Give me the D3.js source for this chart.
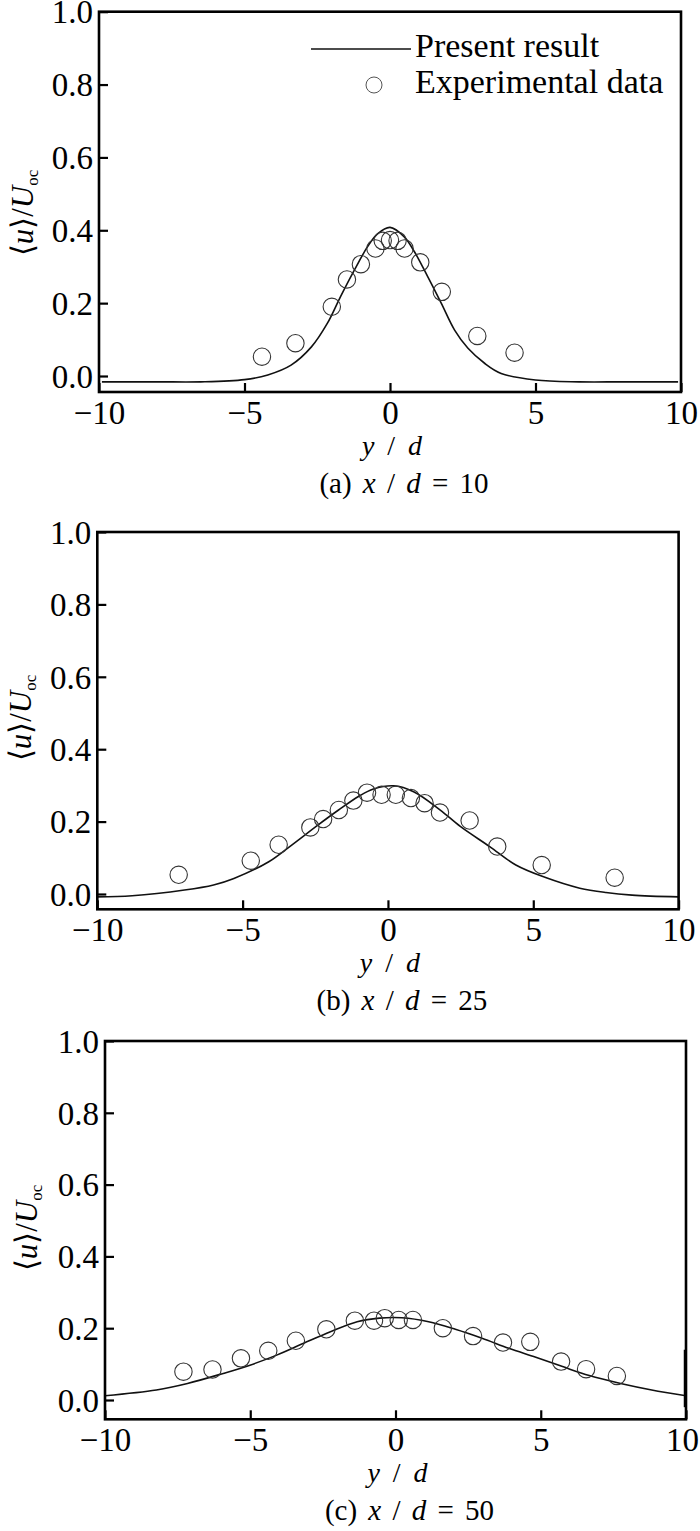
<!DOCTYPE html>
<html>
<head>
<meta charset="utf-8">
<script src="https://cdn.jsdelivr.net/npm/d3@7"></script>
<style>
  html, body { margin: 0; padding: 0; background: #fff; }
  svg { display: block; }
  text { font-family: "Liberation Serif", "Times New Roman", serif; fill: #000; }
</style>
</head>
<body>
<svg id="chart" width="700" height="1531"></svg>
<script>
// ---------------- data ----------------
const xTicks = [-10, -5, 0, 5, 10];
const yTicks = [0.0, 0.2, 0.4, 0.6, 0.8, 1.0];
const legendLabels = ["Present result", "Experimental data"];
const captions = [["(a) ", "x", " / ", "d", " = 10"], ["(b) ", "x", " / ", "d", " = 25"], ["(c) ", "x", " / ", "d", " = 50"]];

// Panel (a) x/d = 10
const curveA_x = [-9.9, -8, -6.5, -5, -4.2, -3.4, -2.7, -2.15, -1.7, -1.23, -0.77, -0.43, 0, 0.49, 0.84, 1.3, 1.76, 2.22, 2.68, 3.25, 3.82, 5, 6.5, 8, 9.9];
const curveA_y = [-0.016, -0.016, -0.016, -0.01, 0.003, 0.03, 0.08, 0.145, 0.218, 0.29, 0.355, 0.39, 0.408, 0.382, 0.341, 0.272, 0.2, 0.126, 0.076, 0.035, 0.007, -0.011, -0.016, -0.016, -0.016];
const expA_x = [-4.4, -3.25, -2.0, -1.48, -1.0, -0.5, -0.25, 0.0, 0.26, 0.5, 1.04, 1.78, 3.0, 4.28];
const expA_y = [0.053, 0.09, 0.19, 0.265, 0.307, 0.35, 0.371, 0.373, 0.371, 0.35, 0.312, 0.231, 0.11, 0.064];

// Panel (b) x/d = 25
const curveB_x = [-10, -8.8, -7, -6, -5.3, -4.1, -3.3, -2.4, -1.7, -1.0, -0.5, 0.2, 0.9, 1.8, 2.5, 3.5, 4.4, 5.4, 6.6, 7.5, 8.4, 10];
const curveB_y = [-0.008, -0.005, 0.011, 0.025, 0.043, 0.089, 0.136, 0.191, 0.232, 0.27, 0.29, 0.299, 0.282, 0.232, 0.186, 0.131, 0.080, 0.046, 0.016, 0.004, -0.003, -0.008];
const expB_x = [-7.2, -4.72, -3.76, -2.67, -2.23, -1.69, -1.19, -0.72, -0.22, 0.27, 0.79, 1.26, 1.79, 2.81, 3.76, 5.29, 7.8];
const expB_y = [0.053, 0.092, 0.136, 0.184, 0.207, 0.232, 0.258, 0.28, 0.274, 0.274, 0.265, 0.251, 0.225, 0.203, 0.131, 0.080, 0.045];

// Panel (c) x/d = 50
const curveC_x = [-10, -8.23, -7.16, -5.93, -5.01, -4.09, -3.16, -2.24, -1.32, -0.55, 0.22, 1.14, 2.06, 2.98, 3.9, 4.83, 5.75, 6.67, 7.75, 8.82, 10];
const curveC_y = [0.012, 0.028, 0.046, 0.074, 0.097, 0.125, 0.158, 0.19, 0.218, 0.228, 0.229, 0.218, 0.197, 0.172, 0.144, 0.119, 0.093, 0.068, 0.046, 0.028, 0.012];
const expC_x = [-7.3, -6.3, -5.32, -4.38, -3.43, -2.38, -1.4, -0.74, -0.37, 0.11, 0.6, 1.63, 2.67, 3.7, 4.64, 5.7, 6.56, 7.62];
const expC_y = [0.079, 0.085, 0.116, 0.137, 0.165, 0.197, 0.221, 0.221, 0.228, 0.223, 0.223, 0.2, 0.178, 0.16, 0.162, 0.107, 0.086, 0.067];

// ---------------- layout ----------------
const panels = [
  { left: 99, right: 681, top: 11.7, zero: 376, bottom: 392, cx: curveA_x, cy: curveA_y, ex: expA_x, ey: expA_y, cap: captions[0], labX: 33, labY: 213, legend: true },
  { left: 97.3, right: 678.6, top: 532, zero: 894, bottom: 909.3, cx: curveB_x, cy: curveB_y, ex: expB_x, ey: expB_y, cap: captions[1], labX: 31, labY: 718, legend: false },
  { left: 105, right: 686, top: 1041, zero: 1400, bottom: 1419.3, cx: curveC_x, cy: curveC_y, ex: expC_x, ey: expC_y, cap: captions[2], labX: 37, labY: 1228, legend: false, artifact: true }
];

const svg = d3.select("#chart");
svg.append("rect").attr("width", 700).attr("height", 1531).attr("fill", "#fff");

panels.forEach(p => {
  const x = d3.scaleLinear().domain([-10, 10]).range([p.left, p.right]);
  const yBottomVal = -(p.bottom - p.zero) / (p.zero - p.top);
  const y = d3.scaleLinear().domain([yBottomVal, 1.0]).range([p.bottom, p.top]);
  const g = svg.append("g");

  // curve
  const pts = p.cx.map((v, i) => [v, p.cy[i]]);
  const line = d3.line().x(d => x(d[0])).y(d => y(d[1])).curve(d3.curveCatmullRom.alpha(0.5));
  g.append("path").attr("d", line(pts)).attr("fill", "none").attr("stroke", "#111").attr("stroke-width", 1.6);

  // experimental circles
  const ep = p.ex.map((v, i) => [v, p.ey[i]]);
  g.selectAll("circle.exp").data(ep).enter().append("circle")
    .attr("cx", d => x(d[0])).attr("cy", d => y(d[1])).attr("r", 8.7)
    .attr("fill", "none").attr("stroke", "#333").attr("stroke-width", 1.1);

  // axes (ticks inward)
  const xAxis = d3.axisBottom(x).tickValues(xTicks).tickSize(-9).tickPadding(14)
    .tickFormat(d => d < 0 ? "\u2212" + Math.abs(d) : String(d));
  const gx = g.append("g").attr("transform", `translate(0,${p.bottom})`).call(xAxis);
  gx.select(".domain").remove();
  gx.selectAll(".tick line").attr("stroke", "#000").attr("stroke-width", 2.2);
  gx.selectAll(".tick text").attr("font-size", 33).attr("dy", 0).attr("y", 32)
    .attr("font-family", '"Liberation Serif", "Times New Roman", serif');
  // keep the last label inside the page
  gx.selectAll(".tick text").each(function() {
    const bb = this.getBBox();
    const tr = this.parentNode.getAttribute("transform");
    const tx = +/translate\(([-\d.]+)/.exec(tr)[1];
    const over = tx + bb.x + bb.width - 699;
    if (over > 0) d3.select(this).attr("x", -over);
  });

  const yAxis = d3.axisLeft(y).tickValues(yTicks).tickSize(-9).tickPadding(8)
    .tickFormat(d3.format(".1f"));
  const gy = g.append("g").attr("transform", `translate(${p.left},0)`).call(yAxis);
  gy.select(".domain").remove();
  gy.selectAll(".tick line").attr("stroke", "#000").attr("stroke-width", 2.2);
  gy.selectAll(".tick text").attr("font-size", 33).attr("dy", "0.34em").attr("x", -6)
    .attr("font-family", '"Liberation Serif", "Times New Roman", serif');

  // frame
  g.append("rect").attr("x", p.left).attr("y", p.top)
    .attr("width", p.right - p.left).attr("height", p.bottom - p.top)
    .attr("fill", "none").attr("stroke", "#000").attr("stroke-width", 2.6);

  if (p.artifact) {
    g.append("line").attr("x1", p.right - 1).attr("x2", p.right - 1)
      .attr("y1", y(0.14)).attr("y2", y(-0.02)).attr("stroke", "#000").attr("stroke-width", 2.5);
  }

  // x label
  const xl = g.append("text").attr("x", (p.left + p.right) / 2 + 2).attr("y", p.bottom + 63)
    .attr("text-anchor", "middle").attr("font-size", 28).style("word-spacing", "6px");
  xl.append("tspan").attr("font-style", "italic").text("y");
  xl.append("tspan").text(" / ");
  xl.append("tspan").attr("font-style", "italic").text("d");

  // caption
  const cp = g.append("text").attr("x", (p.left + p.right) / 2 + 14).attr("y", p.bottom + 101)
    .attr("text-anchor", "middle").attr("font-size", 29).style("word-spacing", "4px");
  p.cap.forEach((s, i) => {
    const t = cp.append("tspan").text(s);
    if (i === 1 || i === 3) t.attr("font-style", "italic");
  });

  // y label
  const yl = g.append("text").attr("transform", `translate(${p.labX},${p.labY}) rotate(-90)`)
    .attr("text-anchor", "middle").attr("font-size", 31);
  yl.append("tspan").text("\u27E8");
  yl.append("tspan").attr("font-style", "italic").text("u");
  yl.append("tspan").text("\u27E9/");
  yl.append("tspan").attr("font-style", "italic").text("U");
  yl.append("tspan").attr("font-size", 17).attr("dy", 5).text("oc");

  // legend
  if (p.legend) {
    const lg = g.append("g");
    lg.append("line").attr("x1", 311).attr("x2", 411).attr("y1", 49).attr("y2", 49)
      .attr("stroke", "#111").attr("stroke-width", 1.6);
    lg.append("text").attr("x", 415).attr("y", 57).attr("font-size", 34).text(legendLabels[0]);
    lg.append("circle").attr("cx", 374).attr("cy", 85).attr("r", 8)
      .attr("fill", "none").attr("stroke", "#555").attr("stroke-width", 1);
    lg.append("text").attr("x", 415).attr("y", 93).attr("font-size", 34).text(legendLabels[1]);
  }
});
</script>
</body>
</html>
